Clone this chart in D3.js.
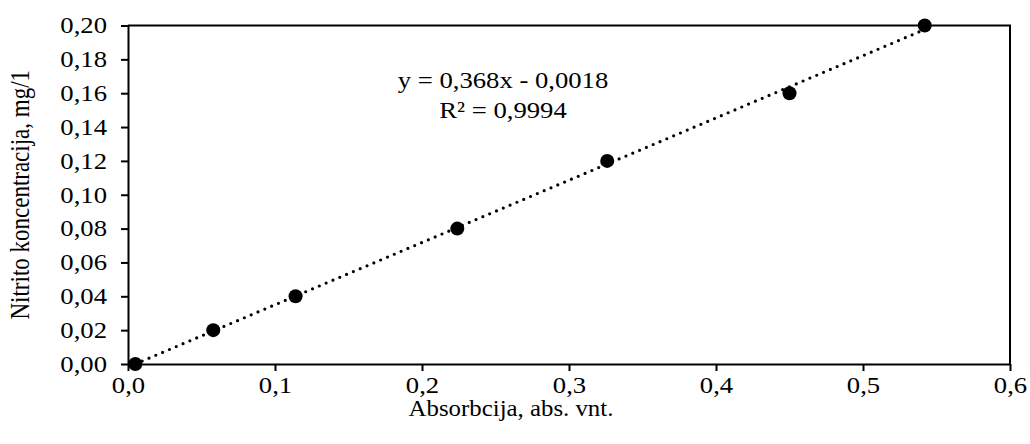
<!DOCTYPE html>
<html>
<head>
<meta charset="utf-8">
<script src="https://cdn.jsdelivr.net/npm/d3@7"></script>
<style>
  html, body { margin: 0; padding: 0; background: #fff; }
  svg { display: block; }
  svg text { font-family: "Liberation Serif", Tinos, "Times New Roman", "DejaVu Serif", serif !important; fill: #000; }
</style>
</head>
<body>
<svg id="chart" width="1030" height="444"></svg>
<script>
// ---- data ----
const absorbance = [0.005, 0.058, 0.114, 0.224, 0.326, 0.450, 0.542];
const concentration = [0.00, 0.02, 0.04, 0.08, 0.12, 0.16, 0.20];
const xTickValues = [0, 0.1, 0.2, 0.3, 0.4, 0.5, 0.6];
const yTickValues = [0, 0.02, 0.04, 0.06, 0.08, 0.10, 0.12, 0.14, 0.16, 0.18, 0.20];
const trendCoefficients = [0.368, -0.0018]; // slope, intercept
const equationLines = ["y = 0,368x - 0,0018", "R² = 0,9994"];
const xTitle = "Absorbcija, abs. vnt.";
const yTitle = "Nitrito koncentracija, mg/1";

// ---- layout ----
const W = 1030, H = 444;
const m = { left: 128, right: 20, top: 25.5, bottom: 80 };
const fs = 23;
const sx = 1.16; // horizontal text stretch of the original
const FONT = '"Liberation Serif", Tinos, "Times New Roman", "DejaVu Serif", serif';

const svg = d3.select("#chart");
const x = d3.scaleLinear().domain([0, 0.6]).range([m.left, W - m.right]);
const y = d3.scaleLinear().domain([0, 0.2]).range([H - m.bottom, m.top]);
const comma = f => v => f(v).replace(".", ",");

// frame (top and right)
svg.append("path")
  .attr("d", `M${x(0)},${y(0.2)} H${x(0.6)} V${y(0)}`)
  .attr("fill", "none").attr("stroke", "#000").attr("stroke-width", 2);

// axes
const xAxis = d3.axisBottom(x).tickValues(xTickValues).tickFormat(comma(d3.format(".1f")))
  .tickSize(7).tickSizeOuter(0).tickPadding(6);
const gx = svg.append("g").attr("transform", `translate(0,${y(0)})`).call(xAxis);
const yAxis = d3.axisLeft(y).tickValues(yTickValues).tickFormat(comma(d3.format(".2f")))
  .tickSize(7).tickSizeOuter(0).tickPadding(11);
const gy = svg.append("g").attr("transform", `translate(${x(0)},0)`).call(yAxis);

[gx, gy].forEach(g => {
  g.attr("font-family", FONT).attr("font-size", fs);
  g.select(".domain").attr("stroke", "#000").attr("stroke-width", 2);
  g.selectAll(".tick line").attr("stroke", "#000").attr("stroke-width", 2);
  g.selectAll(".tick text").attr("fill", "#000").attr("transform", `scale(${sx},1)`);
});
gy.selectAll(".tick text").attr("x", -(7 + 14) / sx);

// trendline
const xs = d3.extent(absorbance);
const trend = xs.map(v => [v, trendCoefficients[0] * v + trendCoefficients[1]]);
svg.append("path")
  .datum(trend)
  .attr("d", d3.line().x(d => x(d[0])).y(d => y(d[1])))
  .attr("fill", "none").attr("stroke", "#000").attr("stroke-width", 3.2)
  .attr("stroke-linecap", "round").attr("stroke-dasharray", "0 7.4");

// points
svg.append("g").selectAll("circle")
  .data(absorbance.map((a, i) => [a, concentration[i]]))
  .join("circle")
  .attr("cx", d => x(d[0])).attr("cy", d => y(d[1])).attr("r", 7).attr("fill", "#000");

// equation
svg.append("g").attr("font-family", FONT)
  .attr("transform", `translate(503,0) scale(${sx},1)`)
  .selectAll("text")
  .data(equationLines)
  .join("text")
  .attr("x", 0).attr("y", (d, i) => 88 + i * 30)
  .attr("text-anchor", "middle").attr("font-size", fs)
  .text(d => d);

// axis titles
svg.append("text").attr("font-family", FONT)
  .attr("transform", `translate(511,416) scale(1.08,1)`)
  .attr("text-anchor", "middle").attr("font-size", fs).text(xTitle);
svg.append("text").attr("font-family", FONT)
  .attr("transform", `translate(29,${(y(0) + y(0.2)) / 2}) scale(${sx},1) rotate(-90)`)
  .attr("text-anchor", "middle").attr("font-size", fs).text(yTitle);
</script>
</body>
</html>
